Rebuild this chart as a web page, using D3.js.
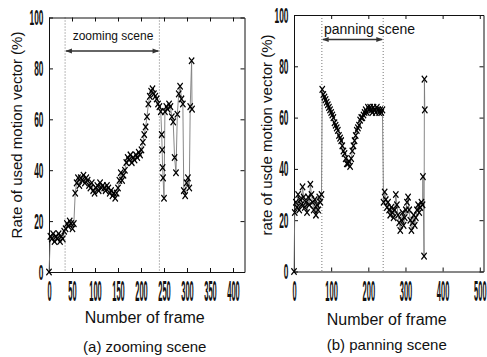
<!DOCTYPE html>
<html>
<head>
<meta charset="utf-8">
<script src="https://cdn.jsdelivr.net/npm/d3@7.9.0/dist/d3.min.js"></script>
<style>
  body { margin: 0; background: #fff; }
  svg { display: block; font-family: "Liberation Sans", Arial, Helvetica, sans-serif; }
</style>
</head>
<body>
<svg id="chart" width="487" height="357"></svg>
<script>
// ---- data ----
const zoomFrames = [0,3,6,9,12,15,18,21,24,27,30,33,36,39,42,45,48,51,54,57,60,63,66,69,72,75,78,81,84,87,
  90,93,96,99,102,105,108,111,114,117,120,123,126,129,132,135,138,141,144,147,150,153,156,159,162,165,168,171,174,177,
  180,183,186,189,192,195,198,201,204,207,210,213,216,219,222,225,228,231,234,237,240,243,
  245,246,247,248,250,252,255,258,261,264,267,270,273,276,279,282,285,288,291,293,296,299,302,305,307,310,311];
const zoomRates = [0,14,13,15,12,14,13,15,12,14,13,16,17,19,18,20,19,17,19,31,35,37,34,37,36,38,35,37,36,34,
  33,35,32,31,33,34,32,35,33,34,33,32,34,33,31,32,30,31,29,31,33,36,39,36,38,40,43,45,44,46,
  43,45,44,46,45,47,46,48,51,54,57,61,66,69,71,72,70,69,68,66,65,63,
  54,48,41,37,29,63,65,64,66,65,61,59,45,39,62,70,73,68,66,32,30,35,37,33,65,83,64];

const panFrames = [0,2,5,8,11,14,17,20,23,26,29,32,35,38,41,44,47,50,53,56,59,62,65,68,71,74,
  76,79,82,85,88,91,94,97,100,103,106,109,112,115,118,121,124,127,130,133,136,139,142,145,148,151,154,157,160,163,
  166,169,172,175,178,181,184,187,190,193,196,199,202,205,208,211,214,217,220,223,226,229,232,235,238,
  241,244,247,250,253,256,259,262,265,268,271,274,277,280,283,286,289,292,295,298,301,304,307,310,313,316,
  319,322,325,328,331,334,337,340,343,346,347,350,351,352];
const panRates = [0,23,27,25,30,24,28,26,33,29,25,27,23,29,26,34,30,27,24,28,22,26,24,29,27,30,
  71,69,68,67,66,65,64,63,62,61,60,58,57,56,55,53,52,51,49,47,46,44,42,42,43,41,44,47,49,51,
  53,55,56,57,59,60,60,61,62,63,62,64,63,64,63,62,64,63,62,64,63,62,63,62,63,
  27,31,28,25,27,24,22,25,23,21,24,30,26,22,19,16,20,23,18,21,24,27,29,24,20,16,
  19,22,18,21,24,26,23,25,27,26,37,6,75,63];

const rateTicks = [0, 20, 40, 60, 80, 100];
const zoomFrameTicks = [0, 50, 100, 150, 200, 250, 300, 350, 400];
const panFrameTicks = [0, 100, 200, 300, 400, 500];

const svg = d3.select('#chart');

// arrow heads for the scene markers
const defs = svg.append('defs');
defs.append('marker')
  .attr('id', 'head')
  .attr('viewBox', '0 0 10 10')
  .attr('refX', 9).attr('refY', 5)
  .attr('markerWidth', 7).attr('markerHeight', 5)
  .attr('orient', 'auto-start-reverse')
  .append('path')
  .attr('d', 'M0,1 L10,5 L0,9 Z')
  .attr('fill', '#333');

function drawPanel(p) {
  const x = d3.scaleLinear().domain(p.xDomain).range(p.xRange);
  const y = d3.scaleLinear().domain([0, 100]).range(p.yRange);
  const g = svg.append('g');

  // dotted lines that bound the scene
  p.sceneBounds.forEach(f => {
    g.append('line')
      .attr('x1', x(f)).attr('x2', x(f))
      .attr('y1', y(100)).attr('y2', y(0))
      .attr('stroke', '#555')
      .attr('stroke-width', 0.8)
      .attr('stroke-dasharray', '1,2');
  });

  // axes, ticks pointing inward like matlab
  const bottom = g.append('g')
    .attr('transform', `translate(0,${y(0)})`)
    .call(d3.axisBottom(x).tickValues(p.xTicks).tickSizeInner(-4).tickSizeOuter(0).tickPadding(8.5));
  bottom.selectAll('text')
    .attr('font-size', 29)
    .attr('font-weight', 'bold')
    .attr('transform', 'scale(0.26,1)');

  g.append('g')
    .attr('transform', `translate(0,${y(100)})`)
    .call(d3.axisTop(x).tickValues(p.xTicks).tickSizeInner(-4).tickSizeOuter(0).tickFormat(''));

  const left = g.append('g')
    .attr('transform', `translate(${x(0)},0)`)
    .call(d3.axisLeft(y).tickValues(rateTicks).tickSizeInner(-4).tickSizeOuter(0));
  left.selectAll('text')
    .attr('font-size', 22)
    .attr('font-weight', 'bold')
    .attr('x', -5.5 / 0.38)
    .attr('transform', 'scale(0.38,1)');

  g.append('g')
    .attr('transform', `translate(${x(p.xDomain[1])},0)`)
    .call(d3.axisRight(y).tickValues(rateTicks).tickSizeInner(-4).tickSizeOuter(0).tickFormat(''));

  g.selectAll('.domain').attr('stroke', '#111').attr('stroke-width', 1);
  g.selectAll('.tick line').attr('stroke', '#111');
  g.selectAll('.tick text').attr('fill', '#111');

  // series
  const pts = p.frames.map((f, i) => [f, p.rates[i]]);
  g.append('path')
    .datum(pts)
    .attr('fill', 'none')
    .attr('stroke', '#7a7a7a')
    .attr('stroke-width', 0.9)
    .attr('d', d3.line().x(d => x(d[0])).y(d => y(d[1])));

  const sym = d3.symbol().type(d3.symbolX).size(20);
  g.selectAll('.mk')
    .data(pts)
    .join('path')
    .attr('class', 'mk')
    .attr('d', sym)
    .attr('transform', d => `translate(${x(d[0])},${y(d[1])}) scale(1,1.25)`)
    .attr('fill', 'none')
    .attr('stroke', '#000')
    .attr('stroke-width', 1.15);

  // scene arrow + label
  g.append('line')
    .attr('x1', x(p.sceneBounds[0]) + 1).attr('x2', x(p.sceneBounds[1]) - 1)
    .attr('y1', p.arrowY).attr('y2', p.arrowY)
    .attr('stroke', '#333').attr('stroke-width', 1.3)
    .attr('marker-start', 'url(#head)')
    .attr('marker-end', 'url(#head)');
  g.append('text')
    .attr('x', p.sceneLabelX).attr('y', p.sceneLabelY)
    .attr('text-anchor', p.sceneAnchor)
    .attr('font-size', p.sceneSize)
    .attr('fill', '#111')
    .text(p.sceneLabel);

  // axis titles and caption
  const cx = (p.xRange[0] + p.xRange[1]) / 2;
  g.append('text')
    .attr('x', cx + p.titleShift).attr('y', p.xTitleY)
    .attr('text-anchor', 'middle')
    .attr('font-size', 16)
    .attr('fill', '#111')
    .text('Number of frame');
  g.append('text')
    .attr('transform', `translate(${p.yTitleX},${p.yTitleY}) rotate(-90)`)
    .attr('text-anchor', 'middle')
    .attr('font-size', 15)
    .attr('fill', '#111')
    .text(p.yTitle);
  g.append('text')
    .attr('x', cx + p.titleShift).attr('y', p.captionY)
    .attr('text-anchor', 'middle')
    .attr('font-size', 15)
    .attr('fill', '#111')
    .text(p.caption);
}

drawPanel({
  frames: zoomFrames, rates: zoomRates,
  xDomain: [0, 425], xRange: [49, 244.5], yRange: [272, 17.5],
  xTicks: zoomFrameTicks,
  sceneBounds: [35, 240],
  arrowY: 51, sceneLabel: 'zooming scene', sceneLabelX: 113, sceneLabelY: 40,
  sceneAnchor: 'middle', sceneSize: 12,
  titleShift: -2, xTitleY: 323,
  yTitle: 'Rate of used motion vector (%)', yTitleX: 22, yTitleY: 135,
  caption: '(a) zooming scene', captionY: 352
});

drawPanel({
  frames: panFrames, rates: panRates,
  xDomain: [0, 510], xRange: [294, 483.5], yRange: [271.5, 15],
  xTicks: panFrameTicks,
  sceneBounds: [75, 240],
  arrowY: 39.5, sceneLabel: 'panning scene', sceneLabelX: 324, sceneLabelY: 34,
  sceneAnchor: 'start', sceneSize: 14,
  titleShift: -2, xTitleY: 325,
  yTitle: 'rate of usde motion vector (%)', yTitleX: 272, yTitleY: 135,
  caption: '(b) panning scene', captionY: 350
});
</script>
</body>
</html>
